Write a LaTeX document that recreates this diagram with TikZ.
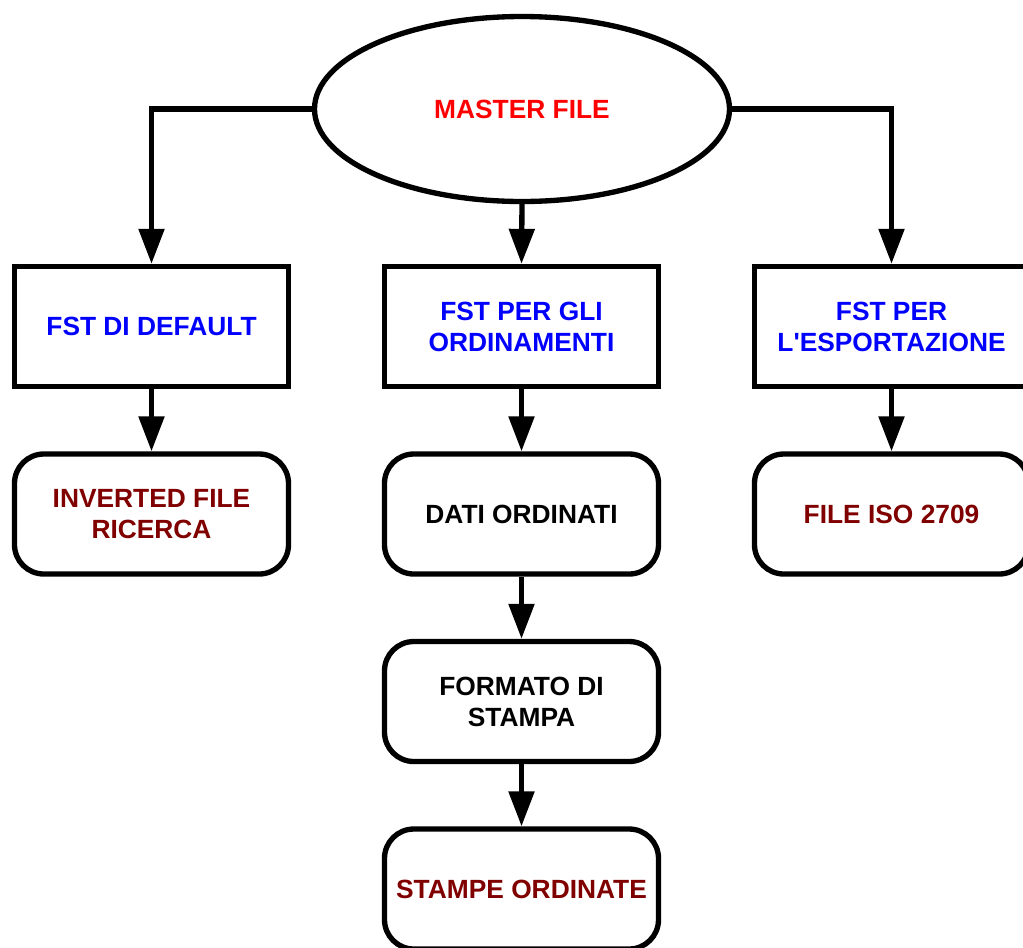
\documentclass[tikz,border=0pt]{standalone}
\usepackage{fontspec}
\setmainfont{Liberation Sans}[Ligatures=TeXOff]
\usetikzlibrary{shapes.geometric,arrows.meta}
\definecolor{mred}{RGB}{255,0,0}
\definecolor{mblue}{RGB}{0,0,255}
\definecolor{mdark}{RGB}{128,0,0}
\begin{document}
\begin{tikzpicture}[x=0.75pt,y=-0.75pt,
  every node/.style={font=\fontsize{19.75}{23.25}\selectfont\bfseries, align=center, inner sep=0pt},
  masternode/.style={ellipse, draw, line width=4pt, minimum width=311.25pt, minimum height=138.75pt, text=mred},
  fstbox/.style={rectangle, draw, line width=4pt, minimum width=205.5pt, minimum height=90pt, text=mblue},
  outbox/.style={rectangle, rounded corners=22pt, draw, line width=4pt, minimum width=205.5pt, minimum height=90pt},
  link/.style={line width=4pt, -{Triangle[width=18.75pt,length=26.25pt]}}
]
\useasboundingbox (0,0) rectangle (1023,947);
\clip (0,0) rectangle (1023,947);

% source file
\node[masternode] (master) at (522,109) {MASTER FILE};

% field selection tables
\node[fstbox] (fstdef) at (151.5,326.5) {FST DI DEFAULT};
\node[fstbox] (fstord) at (521.5,326.5) {FST PER GLI\\ORDINAMENTI};
\node[fstbox] (fstexp) at (891.5,326.5) {FST PER\\L'ESPORTAZIONE};

% results
\node[outbox, text=mdark] (inv) at (151.5,514) {INVERTED FILE\\RICERCA};
\node[outbox, text=black] (dati) at (521.5,514) {DATI ORDINATI};
\node[outbox, text=mdark] (iso) at (891.5,514) {FILE ISO 2709};
\node[outbox, text=black] (formato) at (521.5,701.5) {FORMATO DI\\STAMPA};
\node[outbox, text=mdark] (stampe) at (521.5,889) {STAMPE ORDINATE};

% connectors
\draw[link] (master.west) -| (fstdef.north);
\draw[link] (master.east) -| (fstexp.north);
\draw[link] (master.south) -- (fstord.north);
\draw[link] (fstdef.south) -- (inv.north);
\draw[link] (fstord.south) -- (dati.north);
\draw[link] (fstexp.south) -- (iso.north);
\draw[link] (dati.south) -- (formato.north);
\draw[link] (formato.south) -- (stampe.north);
\end{tikzpicture}
\end{document}
